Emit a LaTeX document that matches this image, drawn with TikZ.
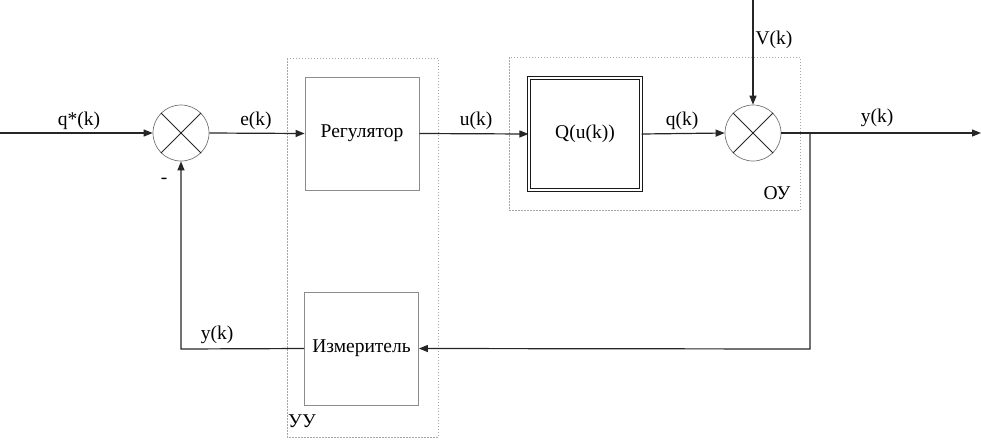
\documentclass[tikz,border=0pt]{standalone}
\usepackage{fontspec}
\setmainfont{Liberation Serif}
\usetikzlibrary{arrows.meta}
\begin{document}
\begin{tikzpicture}[x=1pt,y=-1pt,
  sig/.style={draw=black!85,line width=1.2pt},
  arr/.style={sig,-{Triangle[length=9pt,width=7pt]}},
  txt/.style={font=\fontsize{19.5}{22}\selectfont},
  blk/.style={draw=black!45,line width=0.8pt,fill=white,minimum width=114pt,minimum height=113pt,inner sep=0pt,txt},
  sumj/.style={circle,draw=black!55,line width=0.7pt,minimum size=56pt,inner sep=0pt},
  grp/.style={draw=black!35,dash pattern=on 1.5pt off 1.5pt,line width=0.6pt},
  lbl/.style={txt,inner sep=0pt}]
\useasboundingbox (0,0) rectangle (981,440);
% groups
\draw[grp] (287,58) rectangle (438,437);
\draw[grp] (509,57) rectangle (800,210);
% blocks
\node[blk] (reg) at (362,133.5) {Регулятор};
\node[blk] (meas) at (361.5,348.5) {Измеритель};
\node[blk,draw=black!90,double=white,double distance=2pt,line width=1.1pt,minimum width=112pt,minimum height=112pt] (plant) at (585,134) {Q(u(k))};
% summing junctions
\node[sumj] (s1) at (181,133) {};
\node[sumj] (s2) at (753,133) {};
\foreach \s in {s1,s2}{
  \draw[black!85,line width=0.8pt] (\s.north west) -- (\s.south east);
  \draw[black!85,line width=0.8pt] (\s.north east) -- (\s.south west);
}
% coordinates
\coordinate (in) at (0,133);
\coordinate (vtop) at (753,0);
\coordinate (out) at (981,133);
\coordinate (br) at (810,133);
\coordinate (brd) at (810,349);
\coordinate (fbc) at (181,349);
% connectors
\draw[arr] (in) -- (s1.west);
\draw[arr] (s1.east) -- (reg.west);
\draw[arr] (reg.east) -- (plant.west);
\draw[arr] (plant.east) -- (s2.west);
\draw[arr] (vtop) -- (s2.north);
\draw[arr] (s2.east) -- (out);
\draw[arr] (br) -- (brd) -- (meas.east);
\draw[arr] (meas.west) -- (fbc) -- (s1.south);
% labels
\node[lbl] (lq) at (79,121) {q*(k)};
\node[lbl] (le) at (256,121) {e(k)};
\node[lbl] (lu) at (476,121) {u(k)};
\node[lbl] (lqk) at (682,121) {q(k)};
\node[lbl] (lv) at (774,40) {V(k)};
\node[lbl] (ly) at (877,118) {y(k)};
\node[lbl] (lyf) at (217,335) {y(k)};
\node[lbl] (lm) at (164,181) {-};
\node[lbl] (lou) at (777,193) {ОУ};
\node[lbl] (luu) at (302,421) {УУ};
\end{tikzpicture}
\end{document}
